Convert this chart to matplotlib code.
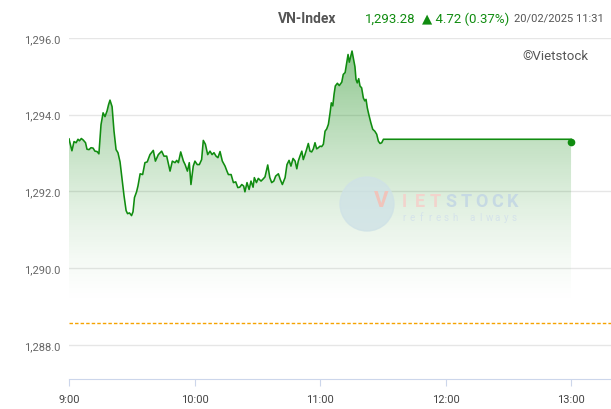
import numpy as np
import matplotlib.pyplot as plt
from matplotlib.patches import Circle

plt.rcParams['font.family'] = ['Roboto', 'DejaVu Sans']

#%% Data (minutes after 9:00, VN-Index value)

minutes = [0.0, 1.4, 2.4, 3.4, 4.3, 5.0, 5.9, 6.8, 7.9, 8.6, 9.6, 10.5, 11.5, 12.4, 13.4, 14.3,
           15.3, 16.3, 17.2, 18.2, 18.9, 19.6, 20.6, 21.5, 22.5, 23.4, 24.4, 25.3, 26.3, 27.3,
           28.0, 28.9, 29.9, 30.6, 31.3, 32.3, 33.0, 34.0, 35.2, 36.3, 37.4, 38.7, 40.3, 41.3,
           42.7, 44.3, 45.4, 46.7, 48.3, 49.4, 50.7, 51.5, 52.3, 53.4, 54.7, 55.5, 56.6, 57.5,
           58.3, 59.4, 60.2, 61.3, 62.3, 63.4, 64.2, 65.2, 66.3, 67.4, 68.4, 69.3, 70.3, 71.2,
           72.2, 73.3, 74.6, 75.5, 76.2, 77.5, 78.6, 79.7, 80.7, 81.6, 82.6, 83.5, 84.1, 85.1,
           86.1, 87.0, 88.0, 88.6, 89.6, 90.5, 91.8, 92.9, 93.7, 95.0, 96.0, 96.9, 97.9, 98.8,
           100.1, 101.0, 102.0, 103.3, 104.2, 105.2, 106.1, 107.1, 108.1, 108.9, 109.6, 110.4,
           111.3, 112.0, 112.8, 113.6, 114.4, 115.2, 116.0, 116.8, 117.6, 118.4, 119.2, 120.0,
           120.8, 121.6, 122.4, 123.2, 124.0, 124.8, 125.4, 126.1, 126.7, 127.3, 128.3, 129.2,
           130.4, 131.1, 132.0, 132.8, 133.4, 134.0, 134.7, 135.3, 135.9, 136.7, 137.2, 137.8,
           138.5, 139.1, 139.9, 140.7, 141.4, 142.0, 142.6, 143.3, 144.3, 145.2, 146.2, 147.1,
           147.9, 148.7, 149.5, 150.3, 240.0]
values = [1293.37, 1293.06, 1293.30, 1293.27, 1293.36, 1293.32, 1293.38, 1293.34, 1293.27,
          1293.10, 1293.09, 1293.14, 1293.13, 1293.05, 1293.04, 1292.98, 1293.74, 1294.05,
          1293.95, 1294.10, 1294.26, 1294.38, 1294.21, 1293.58, 1293.09, 1293.01, 1292.77,
          1292.36, 1291.89, 1291.50, 1291.42, 1291.44, 1291.37, 1291.47, 1291.84, 1291.99,
          1292.15, 1292.46, 1292.44, 1292.75, 1292.77, 1292.96, 1293.07, 1292.79, 1292.96,
          1293.05, 1292.92, 1292.92, 1292.53, 1292.79, 1292.75, 1292.81, 1292.75, 1293.03,
          1292.79, 1292.70, 1292.53, 1292.75, 1292.18, 1292.66, 1292.79, 1292.70, 1292.70,
          1292.83, 1293.33, 1293.23, 1292.96, 1293.05, 1292.96, 1293.01, 1292.92, 1292.88,
          1293.04, 1292.79, 1292.66, 1292.53, 1292.44, 1292.44, 1292.23, 1292.25, 1292.10,
          1292.11, 1292.18, 1292.14, 1291.99, 1292.23, 1292.05, 1292.27, 1292.11, 1292.36,
          1292.23, 1292.34, 1292.27, 1292.33, 1292.38, 1292.69, 1292.36, 1292.23, 1292.27,
          1292.40, 1292.46, 1292.31, 1292.18, 1292.36, 1292.70, 1292.81, 1292.66, 1292.86,
          1292.79, 1292.59, 1292.79, 1292.92, 1293.05, 1292.83, 1292.96, 1293.10, 1293.25,
          1293.05, 1293.03, 1293.11, 1293.27, 1293.11, 1293.14, 1293.18, 1293.17, 1293.23,
          1293.57, 1293.63, 1293.75, 1294.05, 1294.31, 1294.23, 1294.53, 1294.75, 1294.82,
          1294.76, 1294.85, 1295.05, 1295.10, 1295.36, 1295.57, 1295.37, 1295.53, 1295.66,
          1295.49, 1295.25, 1294.92, 1294.83, 1294.94, 1294.75, 1294.70, 1294.44, 1294.36,
          1294.40, 1294.18, 1294.01, 1293.79, 1293.62, 1293.57, 1293.49, 1293.31, 1293.25,
          1293.27, 1293.36, 1293.36]

last_minute = 240
last_value  = 1293.28
prev_close  = 1288.56
change      = 4.72
change_pct  = 0.37
timestamp   = '20/02/2025 11:31'

x_ticks  = [0, 60, 120, 180, 240]
x_labels = ['9:00', '10:00', '11:00', '12:00', '13:00']
y_ticks  = [1288.0, 1290.0, 1292.0, 1294.0, 1296.0]

#%% Plot

green = '#108c10'

fig = plt.figure(figsize=(6.11, 4.10), dpi=100)
ax = fig.add_axes([69/611, 30/410, 542/611, 341/410])
ax.set_xlim(0, 259.1)
ax.set_ylim(1287.11, 1296.0)

# gradient area under the line
fill_bottom = 1289.0
poly = ax.fill_between(minutes, values, fill_bottom, color='none', lw=0)
ys = np.linspace(1296.0, fill_bottom, 200)
frac = np.clip((ys - fill_bottom) / (1296.0 - fill_bottom), 0, 1)
grad = np.zeros((len(ys), 1, 4))
grad[:, 0, 0] = 0.10
grad[:, 0, 1] = 0.55
grad[:, 0, 2] = 0.10
grad[:, 0, 3] = 0.52 * frac ** 1.4
img = ax.imshow(grad, extent=[0, last_minute, fill_bottom, 1296.0], aspect='auto',
                interpolation='bicubic', zorder=1)
img.set_clip_path(poly.get_paths()[0], transform=ax.transData)

ax.plot(minutes, values, color=green, lw=1.15, zorder=4)
ax.plot([last_minute], [last_value], 'o', color=green, ms=4.5, zorder=5)

ax.axhline(prev_close, color='#f5a300', lw=1, ls=(0, (2.5, 1.5)), zorder=3)

ax.set_yticks(y_ticks)
ax.set_yticklabels(['{:,.1f}'.format(v) for v in y_ticks])
ax.set_xticks(x_ticks)
ax.set_xticklabels(x_labels)
ax.grid(axis='y', color='#e6e6e6', lw=1)
ax.set_axisbelow(True)
for s in ['top', 'right', 'left']:
    ax.spines[s].set_visible(False)
ax.spines['bottom'].set_color('#ccd6eb')
ax.tick_params(axis='y', length=0, pad=6, labelsize=8, labelcolor='#666666')
ax.tick_params(axis='x', length=5, color='#ccd6eb', pad=6, labelsize=8, labelcolor='#444444')

# watermark
fig.add_artist(Circle((3.67, 4.10 - 2.05), 0.27, transform=fig.dpi_scale_trans,
                      color='#cfe2e6', alpha=0.8, zorder=2))
fig.text(381/611, 1 - 201/410, 'V', color='#f0c4bb', fontsize=16, fontweight='bold',
         ha='center', va='center', zorder=2)
for i, ch in enumerate('IETSTOCK'):
    col = '#f2d3cc' if i < 3 else '#c6d9e3'
    fig.text((404 + i * 15.5) / 611, 1 - 202/410, ch, color=col, fontsize=13,
             fontweight='bold', ha='center', va='center', zorder=2)
for i, ch in enumerate('refresh always'):
    fig.text((404 + i * 8.5) / 611, 1 - 218/410, ch, color='#d5e3ea', fontsize=7,
             ha='center', va='center', zorder=2)

# header
fig.text(278/611, 1 - 19/410, 'VN-Index', color='#555555', fontsize=10, fontweight='bold',
         ha='left', va='center')
fig.text(365/611, 1 - 19/410, '{:,.2f}'.format(last_value), color=green, fontsize=9.5,
         ha='left', va='center')
fig.text(422/611, 1 - 19/410, '▲ {:.2f} ({:.2f}%)'.format(change, change_pct), color=green,
         fontsize=9.5, ha='left', va='center')
fig.text(514/611, 1 - 19/410, timestamp, color='#555555', fontsize=8, ha='left', va='center')
fig.text(522/611, 1 - 57/410, '©Vietstock', color='#555555', fontsize=9.5, ha='left', va='center')

fig.savefig('out.png', dpi=100)
